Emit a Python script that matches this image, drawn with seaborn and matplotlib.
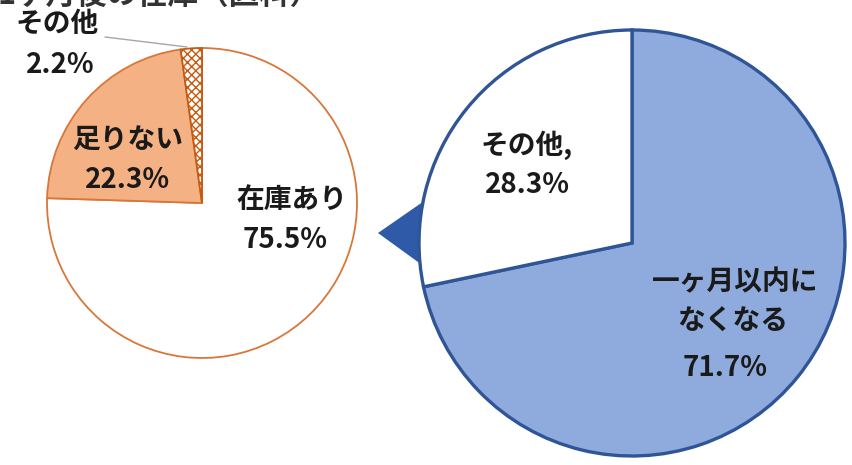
import matplotlib
matplotlib.use("Agg")
import matplotlib.pyplot as plt
import seaborn as sns
from matplotlib.patches import Polygon

sns.set_theme(style="white")
plt.rcParams['font.family'] = ['Noto Sans CJK JP', 'DejaVu Sans']

# ---- data ----
title_text = "1ヶ月後の在庫（医科）"
left_labels = ["在庫あり", "足りない", "その他"]
left_values = [75.5, 22.3, 2.2]
right_labels = ["一ヶ月以内に\nなくなる", "その他,"]
right_values = [71.7, 28.3]

W, H = 852, 465
fig = plt.figure(figsize=(W / 100, H / 100), dpi=100)
ax = fig.add_axes([0, 0, 1, 1])

def Y(py):
    return H - py

# connector triangle (behind the right pie)
tri = Polygon([(378, Y(233)), (440, Y(190)), (440, Y(278))], closed=True,
              facecolor="#2F5AA8", edgecolor="none", zorder=1)
ax.add_patch(tri)

# left pie
lw, _ = ax.pie(left_values, center=(202, Y(203)), radius=155, startangle=90,
               counterclock=False,
               colors=["#FFFFFF", "#F4B183", "#FFFFFF"],
               wedgeprops=dict(edgecolor="#D9773A", linewidth=1.3))
lw[2].set_hatch("xxxx")
lw[2].set_edgecolor("#C55A11")
for w in lw:
    w.set_zorder(2)

# right pie
rw, _ = ax.pie(right_values, center=(632, Y(243)), radius=213, startangle=90,
               counterclock=False,
               colors=["#8FAADC", "#FFFFFF"],
               wedgeprops=dict(edgecolor="#2F5597", linewidth=2.4))
for w in rw:
    w.set_zorder(2)

ax.set_xlim(0, W)
ax.set_ylim(0, H)
ax.set_aspect("auto")
ax.axis("off")

fs = 20
kw = dict(fontsize=fs, fontweight="bold", color="#1a1a1a", ha="center",
          va="center", zorder=5)

# clipped title at top (only its lower edge is visible)
ax.text(-2, Y(4), title_text, fontsize=22, fontweight="bold", color="#333333",
        ha="left", va="baseline", zorder=5)

# left labels
ax.plot([105, 187], [Y(37), Y(47)], color="#A6A6A6", lw=1.0, zorder=4)
ax.text(57, Y(24), left_labels[2], **kw)
ax.text(60, Y(65), f"{left_values[2]}%", **kw)
ax.text(128, Y(140), left_labels[1], **kw)
ax.text(128, Y(180), f"{left_values[1]}%", **kw)
ax.text(292, Y(200), left_labels[0], **kw)
ax.text(285, Y(240), f"{left_values[0]}%", **kw)

# right labels
ax.text(527, Y(145), right_labels[1], **kw)
ax.text(527, Y(185), f"{right_values[1]}%", **kw)
l1, l2 = right_labels[0].split("\n")
ax.text(735, Y(282), l1, **kw)
ax.text(733, Y(322), l2, **kw)
ax.text(725, Y(368), f"{right_values[0]}%", **kw)

fig.savefig("out.png", dpi=100)
